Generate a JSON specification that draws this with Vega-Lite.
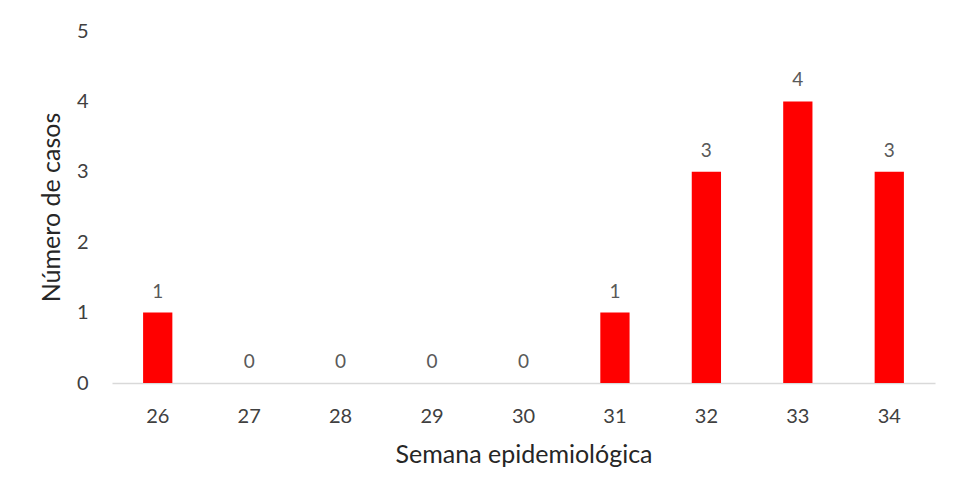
{
  "$schema": "https://vega.github.io/schema/vega-lite/v6.json",
  "autosize": "none",
  "width": 823,
  "height": 352,
  "padding": {"left": 112, "top": 31, "right": 28, "bottom": 119},
  "background": "white",
  "config": {
    "view": {"stroke": null},
    "font": "Lato"
  },
  "data": {
    "values": [
      {"semana": "26", "casos": 1},
      {"semana": "27", "casos": 0},
      {"semana": "28", "casos": 0},
      {"semana": "29", "casos": 0},
      {"semana": "30", "casos": 0},
      {"semana": "31", "casos": 1},
      {"semana": "32", "casos": 3},
      {"semana": "33", "casos": 4},
      {"semana": "34", "casos": 3}
    ]
  },
  "encoding": {
    "x": {
      "field": "semana",
      "type": "ordinal",
      "scale": {"paddingInner": 0.68, "paddingOuter": 0.34},
      "axis": {
        "title": "Semana epidemiológica",
        "titleFont": "Lato",
        "titleFontSize": 25,
        "titleFontWeight": "normal",
        "titleColor": "#262626",
        "titlePadding": 16,
        "labelAngle": 0,
        "labelFontSize": 20,
        "labelColor": "#404040",
        "labelPadding": 23,
        "ticks": false,
        "domainColor": "#d9d9d9",
        "domainWidth": 1.5
      }
    },
    "y": {
      "field": "casos",
      "type": "quantitative",
      "scale": {"domain": [0, 5]},
      "axis": {
        "title": "Número de casos",
        "titleFont": "Lato",
        "titleFontSize": 25,
        "titleFontWeight": "normal",
        "titleColor": "#262626",
        "titlePadding": 12,
        "values": [0, 1, 2, 3, 4, 5],
        "labelFontSize": 20,
        "labelColor": "#404040",
        "labelPadding": 24,
        "ticks": false,
        "domain": false,
        "grid": false
      }
    }
  },
  "layer": [
    {"mark": {"type": "bar", "color": "#ff0000"}},
    {
      "mark": {"type": "text", "baseline": "bottom", "dy": -11, "fontSize": 19, "color": "#595959"},
      "encoding": {"text": {"field": "casos", "type": "quantitative"}}
    }
  ]
}
